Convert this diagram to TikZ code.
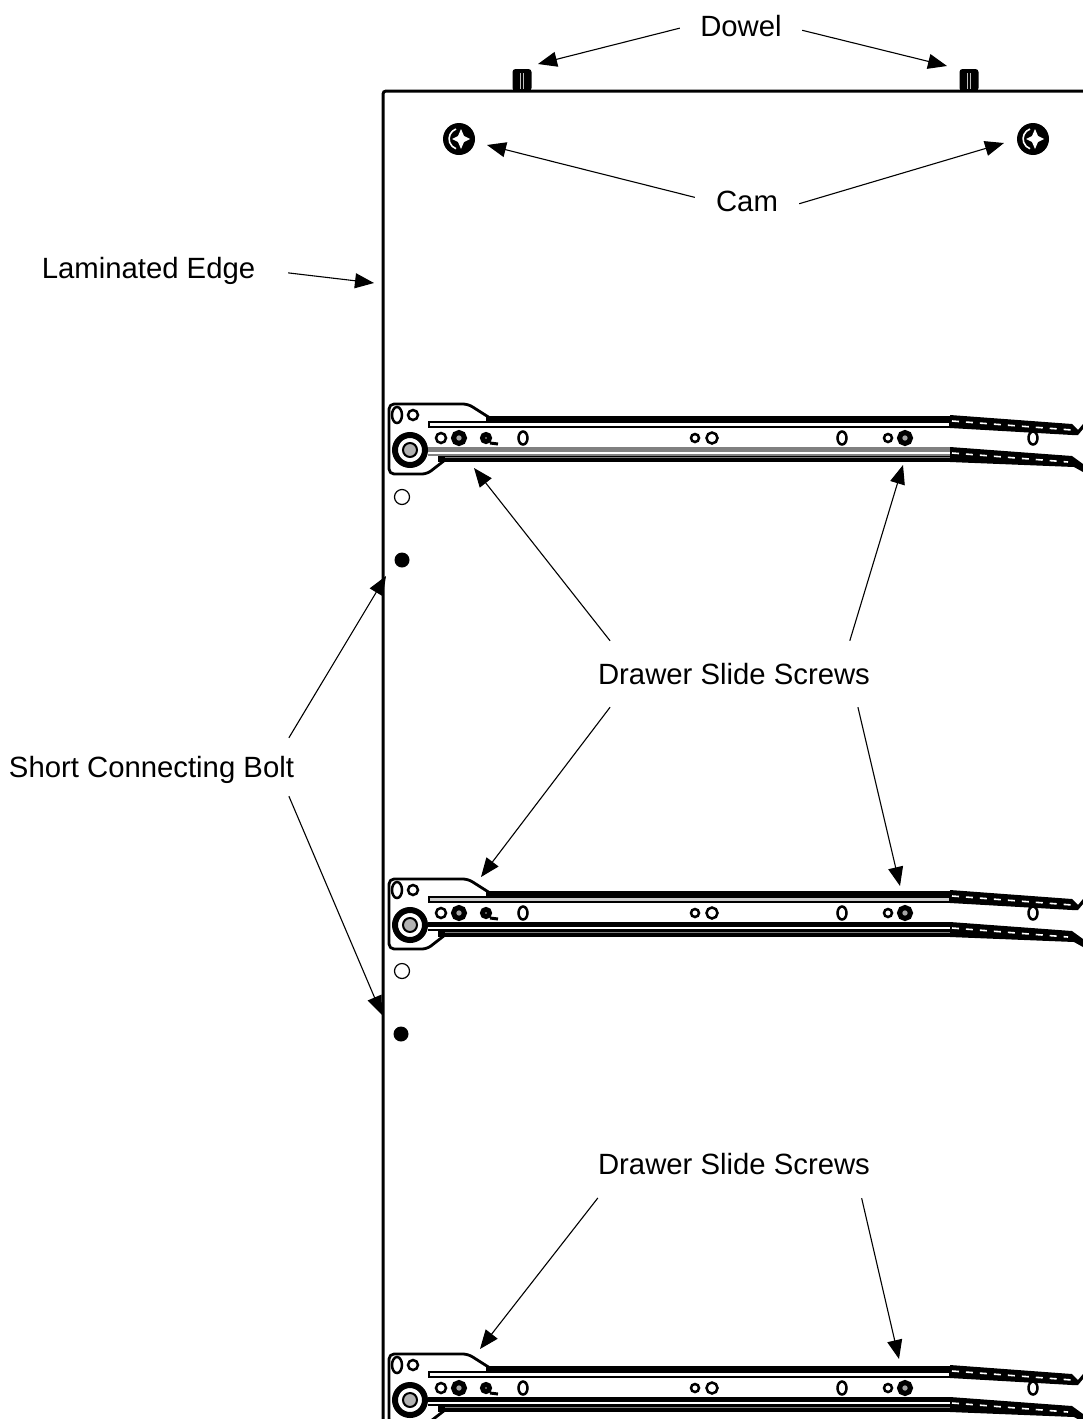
\documentclass[tikz,border=0pt]{standalone}
\usepackage{fontspec}
\setmainfont{Liberation Sans}
\usetikzlibrary{arrows.meta}
\tikzstyle{Label}=[inner sep=0, text depth=0pt, font=\fontsize{29.3}{32}\selectfont]
\tikzstyle{Pointer}=[line width=1.1pt, -{Triangle[length=19pt, width=15pt]}]
\tikzstyle{Hole}=[draw=black, line width=2.5pt, fill=white]
\tikzstyle{Screw}=[draw=black, line width=5pt, fill=gray!70]
% one drawer slide, #1 = height of its top edge, #2 = lower band, #3 = slit in the top rail
\newcommand{\drawslide}[3]{
  \begin{scope}[shift={(0,#1)}]
    % bracket
    \draw[line width=2.8pt, line join=round, rounded corners=5pt] (490,14) -- (468,0) -- (389,0) -- (389,70) -- (427,70) -- (445,56);
    % top rail
    \fill[black] (486,12) rectangle (950,18);
    \draw[line width=1.3pt, fill=#3] (429,18) rectangle (950,23);
    % lower rail
    \fill[#2] (428,43) rectangle (950,51.5);
    \fill[white] (428,47.5) rectangle (950,49.5);
    \fill[black] (438,52) rectangle (950,58);
    \draw[gray, line width=.8pt] (445,53) -- (950,53);
    % tails
    \fill[black] (950,11) -- (1072,20) -- (1078,26) -- (1083,20) -- (1083,25) -- (1078,31) -- (1072,31) -- (950,24) -- cycle;
    \draw[white, line width=1.6pt, dash pattern=on 7pt off 7pt] (952,17) -- (1072,26);
    \fill[black] (950,43) -- (1072,52) -- (1083,60) -- (1083,68) -- (1074,63) -- (950,58) -- cycle;
    \draw[white, line width=1.6pt, dash pattern=on 7pt off 7pt] (952,49) -- (1068,58);
    % holes in the bracket
    \draw[Hole] (397,11) ellipse (5 and 8);
    \draw[Hole] (413,11) circle (5);
    \draw[line width=6pt, fill=white] (410,46) circle (15);
    \draw[line width=2pt, fill=gray!60] (410,46) circle (7);
    % holes along the slide
    \foreach \xhole/\rhole in {441/5, 695/4, 712/5.5, 888/4}
      \draw[Hole] (\xhole,34) circle (\rhole);
    \foreach \xhole in {523, 842, 1033}
      \draw[Hole] (\xhole,34) ellipse (4.5 and 6.5);
    \foreach \xscrew in {459, 905}
      \draw[Screw] (\xscrew,34) circle (5.5);
    \draw[line width=5pt] (486,34) circle (3.5);
    \draw[line width=3pt] (490,39) -- (498,40);
  \end{scope}
}
\newcommand{\drawcam}[1]{
  \fill[black] (#1,139) circle (16);
  \fill[white] (#1+2,139) ++(-9,0) -- ++(6,-3) -- ++(3,-7) -- ++(3,7) -- ++(6,3) -- ++(-6,3) -- ++(-3,7) -- ++(-3,-7) -- cycle;
  \draw[white, line width=1.6pt] (#1-3,129) arc[start angle=-110, end angle=-250, radius=10.5];
}
\newcommand{\drawdowel}[1]{
  \fill[black, rounded corners=3pt] (#1-9.5,91) -- (#1-9.5,69) -- (#1+9.5,69) -- (#1+9.5,91) -- cycle;
  \draw[gray!50, line width=1pt] (#1-1.5,73) -- (#1-1.5,89) (#1+1.5,73) -- (#1+1.5,89);
}

\begin{document}
\begin{tikzpicture}[x=1pt, y=-1pt]
    \useasboundingbox (0,0) rectangle (1083,1419);
    \clip (0,0) rectangle (1083,1419);

    % panel
    \draw[line width=3pt, rounded corners=3pt] (383,1425) -- (383,91) -- (1090,91);
    \drawdowel{522}
    \drawdowel{969}
    \drawcam{459}
    \drawcam{1033}
    \drawslide{404}{gray}{white}
    \drawslide{879}{black}{gray!40}
    \drawslide{1354}{black}{white}

    % loose holes
    \draw[Hole, line width=1.2pt] (402,497) circle (7.5);
    \draw[Hole, line width=1.2pt] (402,971) circle (7.5);
    \fill[black] (402,560) circle (7.5);
    \fill[black] (401,1034) circle (7.5);

    \path
    (741,26) node[Label, minimum width=122] (dowel) {Dowel}
    (747,201) node[Label, minimum width=104] (cam) {Cam}
    (148.5,268) node[Label, minimum width=279] (edge) {Laminated Edge}
    (151.5,767) node[Label, minimum height=58] (bolt) {Short Connecting Bolt}
    (734,674) node[Label, minimum height=66] (screwsA) {Drawer Slide Screws}
    (734,1164) node[Label, minimum height=68] (screwsB) {Drawer Slide Screws};

    \path
    coordinate (dowelL) at (538,64)
    coordinate (dowelR) at (947,66)
    coordinate (camL) at (487,145)
    coordinate (camR) at (1004,143)
    coordinate (edgeTip) at (374,283)
    coordinate (boltUp) at (386,576)
    coordinate (boltDown) at (382,1015)
    coordinate (slideAL) at (474,468)
    coordinate (slideAR) at (903,465)
    coordinate (slideBL) at (481,877)
    coordinate (slideBR) at (900,886)
    coordinate (slideCL) at (480,1349)
    coordinate (slideCR) at (899,1359);

    \draw[Pointer] (dowel.182) -- (dowelL);
    \draw[Pointer] (dowel.-4) -- (dowelR);
    \draw[Pointer] (cam.176) -- (camL);
    \draw[Pointer] (cam.-3) -- (camR);
    \draw[Pointer] (edge.-2) -- (edgeTip);
    \draw[Pointer] (bolt.12) -- (boltUp);
    \draw[Pointer] (bolt.-12) -- (boltDown);
    \draw[Pointer] (screwsA.165) -- (slideAL);
    \draw[Pointer] (screwsA.16) -- (slideAR);
    \draw[Pointer] (screwsA.195) -- (slideBL);
    \draw[Pointer] (screwsA.-15.6) -- (slideBR);
    \draw[Pointer] (screwsB.194) -- (slideCL);
    \draw[Pointer] (screwsB.-15) -- (slideCR);
\end{tikzpicture}
\end{document}
